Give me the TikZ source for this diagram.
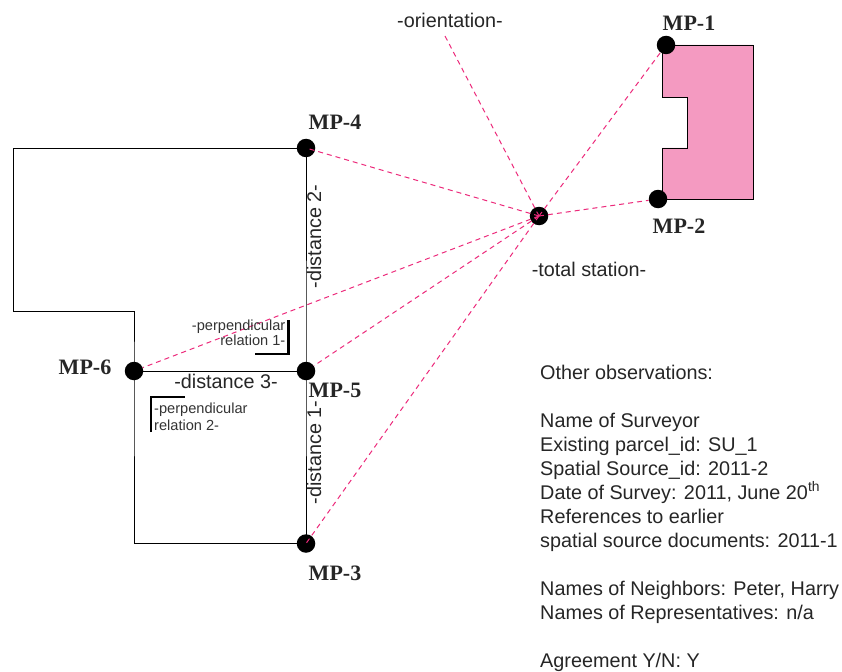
\documentclass[tikz,border=0pt]{standalone}
\usepackage{fontspec}
\setmainfont{Liberation Sans}
\newfontfamily\mpfont{Liberation Serif}
\usetikzlibrary{positioning}
\definecolor{parcelpink}{HTML}{F49AC1}
\definecolor{sightpink}{HTML}{EC2A7B}

\begin{document}
\begin{tikzpicture}[x=1pt, y=-1pt,
	mpnode/.style={circle, fill=black, inner sep=0pt, minimum size=18.5pt},
	mplabel/.style={font=\mpfont\bfseries\fontsize{22}{24}\selectfont, text=black!85, inner sep=0pt},
	txt/.style={font=\fontsize{19.8}{22}\selectfont, text=black!85, inner sep=0pt},
	smalltxt/.style={text=black!80, inner sep=0pt},
	sight/.style={draw=sightpink, dashed, line width=1pt, dash pattern=on 5pt off 4pt},
	bound/.style={draw=black, line width=.9pt},
	corner/.style={draw=black, line width=2.6pt, line cap=butt}, node distance = .5cm, align = center]
	\useasboundingbox (0,0) rectangle (842,671);
	\fill[parcelpink] (662,45) -- (753,45) -- (753,199) -- (662,199) -- (662,148) -- (687,148) -- (687,97) -- (662,97) -- cycle;
	\draw[bound] (662,45) -- (753,45) -- (753,199.5) -- (662,199.5) -- (662,148) -- (687,148) -- (687,97) -- (662,97) -- cycle;
	\node[mpnode] (mp1) at (666,45) {};
	\node[mpnode] (mp2) at (658,199) {};
	\node[mpnode] (mp3) at (306,543.5) {};
	\node[mpnode] (mp4) at (306,148) {};
	\node[mpnode] (mp5) at (306,371) {};
	\node[mpnode] (mp6) at (134,371) {};
	\node[mpnode] (station) at (539,216) {};
	\coordinate (north) at (445,36);
	\coordinate (c1) at (13,148);
	\coordinate (c2) at (13,311);
	\coordinate (c3) at (134,311);
	\coordinate (c4) at (134,543.5);
	\draw[bound] (mp4.center) -- (c1) -- (c2) -- (c3) -- (mp6.center) -- (c4) -- (mp3.center) -- (mp5.center) -- (mp4.center);
	\draw[bound] (mp6.center) -- (mp5.center);
	\draw[sight] (station.center) -- (mp1);
	\draw[sight] (station.center) -- (mp2);
	\draw[sight] (station.center) -- (mp3.center);
	\draw[sight] (station.center) -- (mp4.center);
	\draw[sight] (station.center) -- (mp5);
	\draw[sight] (station.center) -- (mp6);
	\draw[sight] (station.center) -- (north);
	\node[mplabel] at (689,23) (lab1) {MP-1};
	\node[mplabel] at (679,226) (lab2) {MP-2};
	\node[mplabel] at (335,573) (lab3) {MP-3};
	\node[mplabel] at (335,122) (lab4) {MP-4};
	\node[mplabel] at (335,390) (lab5) {MP-5};
	\node[mplabel] at (85,367) (lab6) {MP-6};
	\node[txt] (orient) at (450,20) {-orientation-};
	\node[txt] (totst) at (589,269.5) {-total station-};
	\node[txt, rotate=90] (dist2) at (314,236.5) {-distance 2-};
	\node[txt, rotate=90] (dist1) at (314,452.5) {-distance 1-};
	\node[txt] (dist3) at (226,381.5) {-distance 3-};
	\node[smalltxt, font=\fontsize{14.6}{15.5}\selectfont, align=right, anchor=north east] (perp1) at (285.5,319.5) {-perpendicular\\relation 1-};
	\node[smalltxt, font=\fontsize{14.6}{17.5}\selectfont, align=left, anchor=north west] (perp2) at (154,402.5) {-perpendicular\\relation 2-};
	\coordinate (p1a) at (288.5,320);
	\coordinate (p1b) at (288.5,354);
	\coordinate (p1c) at (255,354);
	\coordinate (p2a) at (151,432);
	\coordinate (p2b) at (151,397);
	\coordinate (p2c) at (185,397);
	\draw[corner] (p1a) -- (p1b) -- (p1c);
	\draw[corner] (p2a) -- (p2b) -- (p2c);
	\node[txt, anchor=north west, align=left, font=\fontsize{19.8}{24.05}\selectfont] (notes) at (540,364.5) {Other observations:\\[24.05pt]
		Name of Surveyor\\
		Existing parcel\_id: SU\_1\\
		Spatial Source\_id: 2011-2\\
		Date of Survey: 2011, June 20\textsuperscript{th}\\
		References to earlier\\
		spatial source documents: 2011-1\\[24.05pt]
		Names of Neighbors: Peter, Harry\\
		Names of Representatives: n/a\\[24.05pt]
		Agreement Y/N: Y};
\end{tikzpicture}
\end{document}
